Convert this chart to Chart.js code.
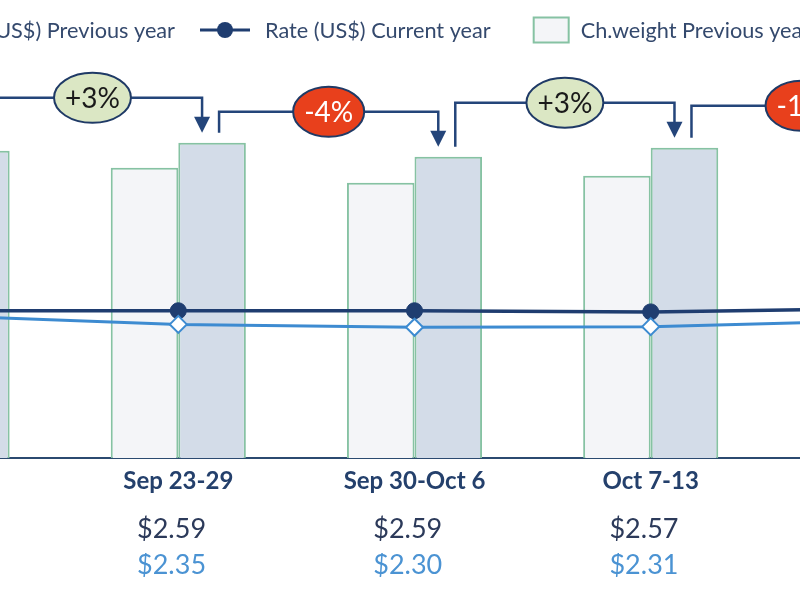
<!DOCTYPE html>
<html>
<head>
<meta charset="utf-8">
<script src="https://cdn.jsdelivr.net/npm/chart.js@4.4.1/dist/chart.umd.min.js"></script>
<style>
  html, body { margin: 0; padding: 0; width: 800px; height: 600px; overflow: hidden; background: #fff; }
  #chartCanvas { position: absolute; left: -200px; top: 0; }
</style>
</head>
<body>
<canvas id="chartCanvas" width="1230" height="600"></canvas>
<script>
// weeks shown on the x axis (the first and last are cut off by the frame)
const weeks = ['Sep 16-22', 'Sep 23-29', 'Sep 30-Oct 6', 'Oct 7-13', 'Oct 14-20'];
// chargeable weight, previous / current year
const weightPrev = [290, 291, 276, 283, 285];
const weightCur = [308, 316, 302, 311, 308];
// rate in US$, current / previous year
const rateCur = [2.59, 2.59, 2.59, 2.57, 2.63];
const ratePrev = [2.50, 2.35, 2.30, 2.31, 2.42];

const FONT = 'Lato, "Open Sans", sans-serif';
const NAVY = '#1f3d70';
const LIGHT = '#3d8bd1';
const GREEN = '#86c2a3';

const legendItems = [
    { text: 'Rate (US$) Previous year', kind: 'line', color: LIGHT, marker: 'diamond' },
    { text: 'Rate (US$) Current year', kind: 'line', color: NAVY, marker: 'circle' },
    { text: 'Ch.weight Previous year', kind: 'box', fill: '#f4f5f8' },
    { text: 'Ch.weight Current year', kind: 'box', fill: '#d3dce8' }
];

const legendPlugin = {
    id: 'weekLegend',
    afterDraw(chart, args, opts) {
        const ctx = chart.ctx;
        ctx.save();
        ctx.font = opts.size + 'px ' + FONT;
        ctx.textBaseline = 'middle';
        const widths = legendItems.map(it => {
            const sym = it.kind === 'line' ? 50 + 15 : 35 + 12;
            return sym + ctx.measureText(it.text).width;
        });
        // opts.anchor is where the second item starts
        let x = opts.anchor - opts.gaps[0] - widths[0];
        const y = opts.y;
        legendItems.forEach((it, i) => {
            let tx;
            if (it.kind === 'line') {
                ctx.strokeStyle = it.color;
                ctx.lineWidth = 3;
                ctx.beginPath();
                ctx.moveTo(x, y);
                ctx.lineTo(x + 50, y);
                ctx.stroke();
                ctx.beginPath();
                if (it.marker === 'circle') {
                    ctx.fillStyle = it.color;
                    ctx.arc(x + 25, y, 8, 0, Math.PI * 2);
                    ctx.fill();
                } else {
                    ctx.fillStyle = '#fff';
                    ctx.lineWidth = 2;
                    ctx.moveTo(x + 25, y - 8);
                    ctx.lineTo(x + 33, y);
                    ctx.lineTo(x + 25, y + 8);
                    ctx.lineTo(x + 17, y);
                    ctx.closePath();
                    ctx.fill();
                    ctx.stroke();
                }
                tx = x + 65;
            } else {
                ctx.fillStyle = it.fill;
                ctx.strokeStyle = GREEN;
                ctx.lineWidth = 2;
                ctx.fillRect(x, y - 12.5, 35, 25);
                ctx.strokeRect(x, y - 12.5, 35, 25);
                tx = x + 47;
            }
            ctx.fillStyle = '#34496d';
            ctx.fillText(it.text, tx, y + 1);
            x += widths[i] + (opts.gaps[i] || 40);
        });
        ctx.restore();
    }
};

const changePlugin = {
    id: 'weekChange',
    afterDatasetsDraw(chart, args, opts) {
        const ctx = chart.ctx;
        const bars = chart.getDatasetMeta(3).data;
        ctx.save();
        for (let i = 0; i < bars.length - 1; i++) {
            const a = bars[i], b = bars[i + 1];
            const xs = a.x + 7, xe = b.x - 10;
            const ys = a.y - 10, ye = b.y - 10;
            const level = Math.min(a.y, b.y) - opts.lift[i];
            ctx.strokeStyle = '#24457a';
            ctx.lineWidth = 2.5;
            ctx.beginPath();
            ctx.moveTo(xs, ys);
            ctx.lineTo(xs, level);
            ctx.lineTo(xe, level);
            ctx.lineTo(xe, ye - 15);
            ctx.stroke();
            ctx.fillStyle = '#24457a';
            ctx.beginPath();
            ctx.moveTo(xe - 8, ye - 16);
            ctx.lineTo(xe + 8, ye - 16);
            ctx.lineTo(xe, ye);
            ctx.closePath();
            ctx.fill();

            const pct = Math.round((weightCur[i + 1] / weightCur[i] - 1) * 100);
            const label = (pct > 0 ? '+' : '') + pct + '%';
            ctx.font = opts.size + 'px ' + FONT;
            const tw = ctx.measureText(label).width;
            const cx = (xs + xe) / 2;
            ctx.beginPath();
            ctx.ellipse(cx, level, tw / 2 + 11, 25, 0, 0, Math.PI * 2);
            ctx.fillStyle = pct >= 0 ? '#dbe7c4' : '#e8401c';
            ctx.fill();
            ctx.lineWidth = 2;
            ctx.strokeStyle = '#1f3a66';
            ctx.stroke();
            ctx.fillStyle = pct >= 0 ? '#1a1a1a' : '#ffffff';
            ctx.textAlign = 'center';
            ctx.textBaseline = 'middle';
            ctx.fillText(label, cx, level + 1);
        }
        ctx.restore();
    }
};

const hiddenGrid = { display: false, drawTicks: false };
// the price rows sit a little left of the week centre
const priceLabel = v => '$' + v.toFixed(2) + '\u2002';

const chart = new Chart(document.getElementById('chartCanvas').getContext('2d'), {
    data: {
        labels: weeks,
        datasets: [
            {
                type: 'line', label: 'Rate (US$) Previous year', data: ratePrev, yAxisID: 'yRate',
                borderColor: LIGHT, borderWidth: 3, tension: 0,
                pointStyle: 'rectRot', pointRadius: 8.5, pointBackgroundColor: '#fff',
                pointBorderColor: LIGHT, pointBorderWidth: 2, order: 0
            },
            {
                type: 'line', label: 'Rate (US$) Current year', data: rateCur, yAxisID: 'yRate',
                borderColor: NAVY, borderWidth: 3.5, tension: 0,
                pointRadius: 8, pointBackgroundColor: NAVY, pointBorderColor: NAVY,
                pointBorderWidth: 1, order: 0
            },
            {
                type: 'bar', label: 'Ch.weight Previous year', data: weightPrev, yAxisID: 'y',
                backgroundColor: '#f4f5f8', borderColor: GREEN, borderWidth: 2,
                categoryPercentage: 0.572, barPercentage: 1, order: 1
            },
            {
                type: 'bar', label: 'Ch.weight Current year', data: weightCur, yAxisID: 'y',
                backgroundColor: '#d3dce8', borderColor: GREEN, borderWidth: 2,
                categoryPercentage: 0.572, barPercentage: 1, order: 1
            }
        ]
    },
    options: {
        responsive: false,
        animation: false,
        layout: { padding: { top: 60, left: 24, right: 25, bottom: 23 } },
        plugins: {
            legend: { display: false },
            tooltip: { enabled: false },
            weekLegend: { anchor: 400, gaps: [25, 43, 43], y: 30, size: 21.7 },
            weekChange: { lift: [45, 31, 45, 42], size: 28 }
        },
        scales: {
            x: {
                position: 'bottom', weight: 1, offset: true,
                grid: hiddenGrid,
                border: { display: true, color: '#2b4a70', width: 2 },
                ticks: {
                    color: '#24406c', padding: 11.5, maxRotation: 0, autoSkip: false,
                    font: { family: FONT, size: 24, weight: 'bold', lineHeight: 1 }
                }
            },
            xCur: {
                type: 'category', position: 'bottom', weight: 2, offset: true,
                grid: hiddenGrid, border: { display: false },
                ticks: {
                    color: '#2c3a5a', padding: 10.5, maxRotation: 0, autoSkip: false,
                    font: { family: FONT, size: 27, lineHeight: 1 },
                    callback: (v, i) => priceLabel(rateCur[i])
                }
            },
            xPrev: {
                type: 'category', position: 'bottom', weight: 3, offset: true,
                grid: hiddenGrid, border: { display: false },
                ticks: {
                    color: '#4b93d3', padding: 5.25, maxRotation: 0, autoSkip: false,
                    font: { family: FONT, size: 27, lineHeight: 0.5 },
                    callback: (v, i) => priceLabel(ratePrev[i])
                }
            },
            y: { display: false, min: 0, max: 399 },
            yRate: { display: false, min: 0, max: 7 }
        }
    },
    plugins: [legendPlugin, changePlugin]
});
</script>
</body>
</html>
